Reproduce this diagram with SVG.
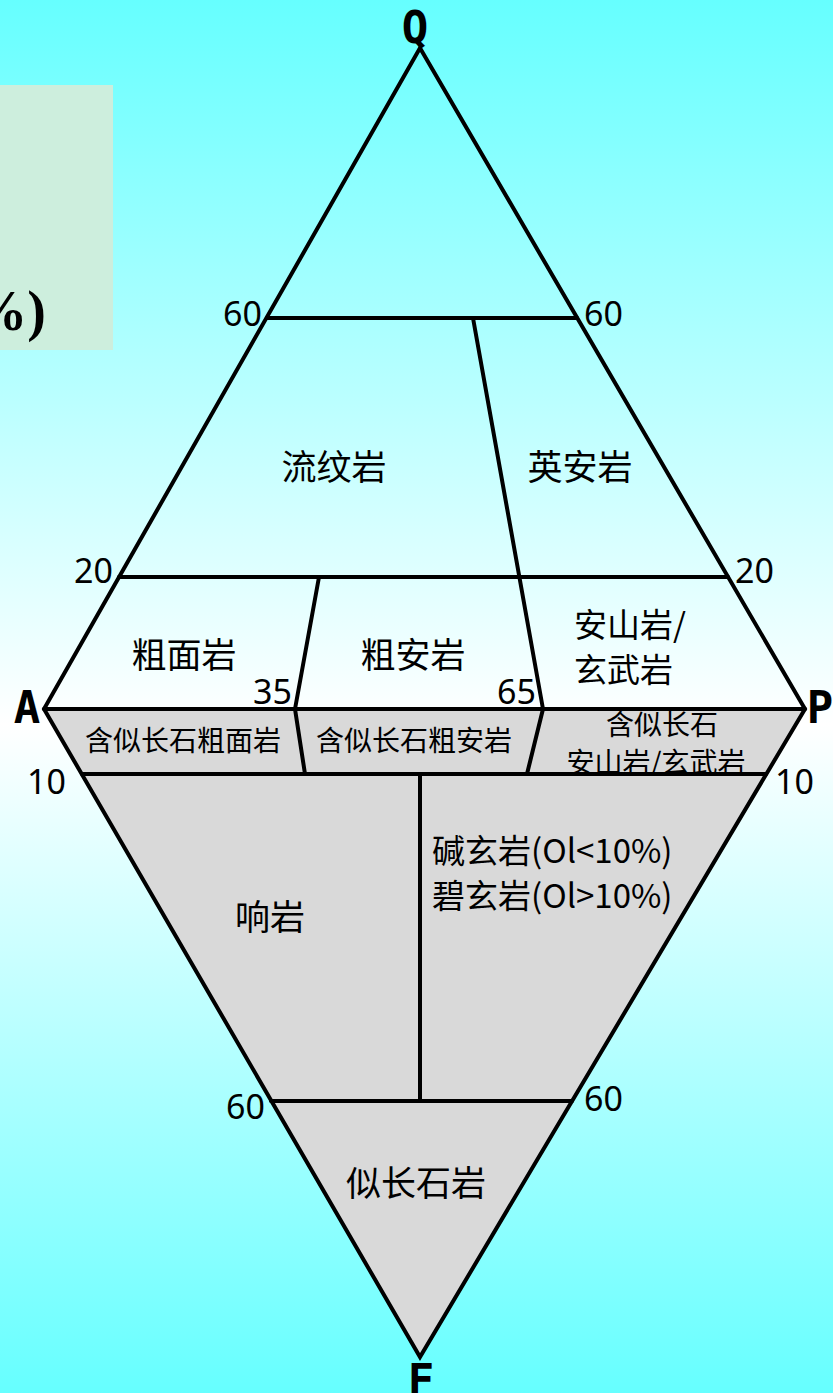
<svg xmlns="http://www.w3.org/2000/svg" width="833" height="1393" viewBox="0 0 833 1393">
<defs>
<linearGradient id="bg" x1="0" y1="0" x2="0" y2="1">
<stop offset="0" stop-color="#66ffff"/>
<stop offset="0.52" stop-color="#ffffff"/>
<stop offset="1" stop-color="#66ffff"/>
</linearGradient>
</defs>
<style>
.ln{stroke:#000;stroke-width:4;fill:none;stroke-linejoin:miter;stroke-linecap:round}
.g{fill:#d9d9d9;stroke:none}
.w{fill:none;stroke:none}
.num{font-family:"Noto Sans","DejaVu Sans",sans-serif;font-size:34px;fill:#000}
.big{font-family:"Noto Sans CJK SC",sans-serif;font-size:35px;fill:#000}
.two{font-family:"Noto Sans CJK SC",sans-serif;font-size:33px;fill:#000}
.sm{font-family:"Noto Sans CJK SC",sans-serif;font-size:28px;fill:#000}
.ltr{font-family:"DejaVu Sans Mono",monospace;font-weight:bold;font-size:44px;fill:#000}
</style>
<rect x="0" y="0" width="833" height="1393" fill="url(#bg)"/>
<g id="title-box">
<rect x="0" y="85" width="113" height="265" fill="#cdeedd"/>
<text x="46" y="330" text-anchor="end" font-family="Liberation Serif,serif" font-weight="bold" font-size="56" fill="#000">%)</text>
</g>
<g id="regions">
<g id="q-apex"><polygon class="w" points="420,48 267,318 577,318"/></g>
<g id="rhyolite"><polygon class="w" points="267,318 473,318 520,577 119,577"/><text class="big" x="334" y="480" text-anchor="middle">流纹岩</text></g>
<g id="dacite"><polygon class="w" points="473,318 577,318 728,577 520,577"/><text class="big" x="580" y="480" text-anchor="middle">英安岩</text></g>
<g id="trachyte"><polygon class="w" points="119,577 319,577 295,709 44,709"/><text class="big" x="184" y="668" text-anchor="middle">粗面岩</text></g>
<g id="latite"><polygon class="w" points="319,577 520,577 543,709 295,709"/><text class="big" x="413" y="668" text-anchor="middle">粗安岩</text></g>
<g id="andesite-basalt"><polygon class="w" points="520,577 728,577 805,709 543,709"/><text class="two" x="574" y="637">安山岩/</text><text class="two" x="574" y="682">玄武岩</text></g>
<g id="foid-trachyte"><polygon class="g" points="44,709 295,709 305,774 82,774"/><text class="sm" x="183" y="751" text-anchor="middle">含似长石粗面岩</text></g>
<g id="foid-latite"><polygon class="g" points="295,709 543,709 527,774 305,774"/><text class="sm" x="414" y="751" text-anchor="middle">含似长石粗安岩</text></g>
<g id="foid-andesite"><polygon class="g" points="543,709 805,709 766,774 527,774"/><text class="sm" x="662" y="735" text-anchor="middle">含似长石</text><text class="sm" x="656" y="773" text-anchor="middle">安山岩/玄武岩</text></g>
<g id="phonolite"><polygon class="g" points="82,774 420,774 420,1101 271,1101"/><text class="big" x="270" y="930" text-anchor="middle">响岩</text></g>
<g id="tephrite-basanite"><polygon class="g" points="420,774 766,774 572,1101 420,1101"/><text class="two" x="432" y="863">碱玄岩(Ol&lt;10%)</text><text class="two" x="432" y="908">碧玄岩(Ol&gt;10%)</text></g>
<g id="foidite"><polygon class="g" points="271,1101 572,1101 420,1357"/><text class="big" x="416" y="1196" text-anchor="middle">似长石岩</text></g>
</g>
<g id="connectors">
<polygon class="ln" points="420,48 805,709 420,1357 44,709"/>
<line class="ln" x1="44" y1="709" x2="805" y2="709"/>
<line class="ln" x1="267" y1="318" x2="577" y2="318"/>
<line class="ln" x1="119" y1="577" x2="728" y2="577"/>
<line class="ln" x1="82" y1="774" x2="766" y2="774"/>
<line class="ln" x1="271" y1="1101" x2="572" y2="1101"/>
<line class="ln" x1="473" y1="318" x2="543" y2="709"/>
<line class="ln" x1="319" y1="577" x2="295" y2="709"/>
<line class="ln" x1="295" y1="709" x2="305" y2="774"/>
<line class="ln" x1="543" y1="709" x2="527" y2="774"/>
<line class="ln" x1="420" y1="774" x2="420" y2="1101"/>
</g>
<g id="labels">
<text class="ltr" x="415" y="43" text-anchor="middle">Q</text>
<text class="ltr" x="27" y="723" text-anchor="middle">A</text>
<text class="ltr" x="820" y="723" text-anchor="middle">P</text>
<text class="ltr" x="421" y="1396" text-anchor="middle">F</text>
<text class="num" x="262" y="326" text-anchor="end">60</text>
<text class="num" x="584" y="326">60</text>
<text class="num" x="113" y="583" text-anchor="end">20</text>
<text class="num" x="735" y="583">20</text>
<text class="num" x="292" y="704" text-anchor="end">35</text>
<text class="num" x="536" y="704" text-anchor="end">65</text>
<text class="num" x="66" y="794" text-anchor="end">10</text>
<text class="num" x="775" y="794">10</text>
<text class="num" x="265" y="1119" text-anchor="end">60</text>
<text class="num" x="584" y="1111">60</text>
</g>
</svg>
